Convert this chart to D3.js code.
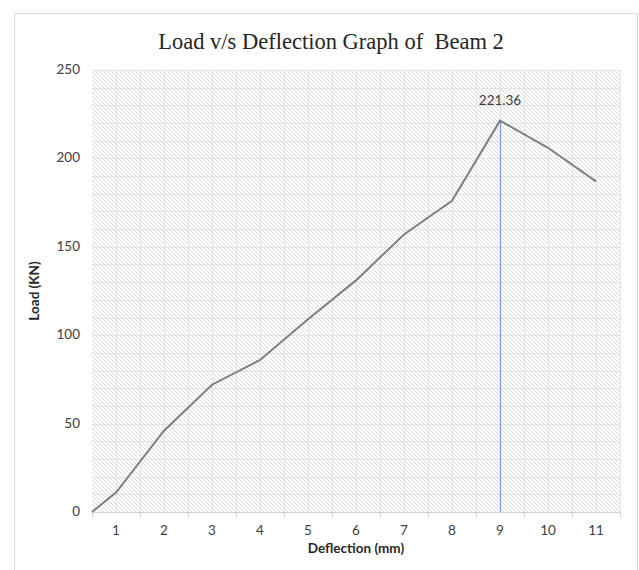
<!DOCTYPE html>
<html>
<head>
<meta charset="utf-8">
<script src="https://cdnjs.cloudflare.com/ajax/libs/d3/7.8.5/d3.min.js"></script>
<style>
body { margin:0; background:#fff; }
text { font-family: Lato, "Open Sans", sans-serif; }
</style>
</head>
<body>
<div id="chart"></div>
<script>
// deflection (mm) and load (KN)
var deflection = [0.5, 1, 2, 3, 4, 5, 6, 7, 8, 9, 10, 11];
var load = [0, 11, 46, 72, 86, 109, 131, 157, 176, 221.36, 206, 187];
var xLabels = [1, 2, 3, 4, 5, 6, 7, 8, 9, 10, 11];
var yTicks = [0, 50, 100, 150, 200, 250];
var peakLabel = "221.36";

var width = 639, height = 570;
var m = {left: 92, right: 19, top: 70, bottom: 58};

var svg = d3.select('#chart').append('svg')
    .attr('width', width)
    .attr('height', height);

// hatch fill of the plot area
var defs = svg.append('defs');
defs.append('pattern')
    .attr('id', 'hatch')
    .attr('patternUnits', 'userSpaceOnUse')
    .attr('width', 4).attr('height', 4)
    .append('path')
    .attr('d', 'M-1,-1 L5,5 M-1,3 L1,5 M3,-1 L5,1')
    .attr('stroke', '#dcdcdc')
    .attr('stroke-width', 1);

// chart border
svg.append('rect')
    .attr('x', 14.5).attr('y', 13.5)
    .attr('width', 623).attr('height', 600)
    .attr('fill', 'none')
    .attr('stroke', '#d9d9d9');

var x = d3.scaleLinear().domain([0.5, 11.5]).range([m.left, width - m.right]);
var y = d3.scaleLinear().domain([0, 250]).range([height - m.bottom, m.top]);

var g = svg.append('g');

g.append('rect')
    .attr('x', x(0.5)).attr('y', y(250))
    .attr('width', x(11.5) - x(0.5)).attr('height', y(0) - y(250))
    .attr('fill', 'url(#hatch)');

// gridlines
g.selectAll('.hg').data(d3.range(10, 251, 10)).enter().append('line')
    .attr('x1', x(0.5)).attr('x2', x(11.5))
    .attr('y1', function(d){ return Math.round(y(d)) + 0.5; })
    .attr('y2', function(d){ return Math.round(y(d)) + 0.5; })
    .attr('stroke', '#e3e3e3');
g.selectAll('.vg').data(d3.range(1, 11.6, 0.5)).enter().append('line')
    .attr('y1', y(0)).attr('y2', y(250))
    .attr('x1', function(d){ return Math.round(x(d)) + 0.5; })
    .attr('x2', function(d){ return Math.round(x(d)) + 0.5; })
    .attr('stroke', '#e3e3e3');

// x axis line and ticks
g.append('line')
    .attr('x1', x(0.5)).attr('x2', x(11.5))
    .attr('y1', y(0) + 0.5).attr('y2', y(0) + 0.5)
    .attr('stroke', '#d0d0d0');
g.selectAll('.xt').data(d3.range(0.5, 11.6, 1)).enter().append('line')
    .attr('y1', y(0)).attr('y2', y(0) + 5)
    .attr('x1', function(d){ return Math.round(x(d)) + 0.5; })
    .attr('x2', function(d){ return Math.round(x(d)) + 0.5; })
    .attr('stroke', '#d0d0d0');

g.selectAll('.xl').data(xLabels).enter().append('text')
    .attr('x', function(d){ return x(d); })
    .attr('y', y(0) + 23)
    .attr('text-anchor', 'middle')
    .attr('font-size', 13.5)
    .attr('fill', '#404040')
    .text(function(d){ return d; });

g.selectAll('.yl').data(yTicks).enter().append('text')
    .attr('x', 80)
    .attr('y', function(d){ return y(d) + 4; })
    .attr('text-anchor', 'end')
    .attr('font-size', 13.5)
    .attr('fill', '#404040')
    .text(function(d){ return d; });

// peak drop line
var peakI = load.indexOf(d3.max(load));
g.append('line')
    .attr('x1', x(deflection[peakI]) + 0.5).attr('x2', x(deflection[peakI]) + 0.5)
    .attr('y1', y(load[peakI])).attr('y2', y(0))
    .attr('stroke', '#7b9fdd')
    .attr('stroke-width', 1.3);

var line = d3.line()
    .x(function(d, i){ return x(deflection[i]); })
    .y(function(d){ return y(d); });

g.append('path')
    .datum(load)
    .attr('d', line)
    .attr('fill', 'none')
    .attr('stroke', '#7f7f7f')
    .attr('stroke-width', 2);

g.append('text')
    .attr('x', x(deflection[peakI]))
    .attr('y', y(load[peakI]) - 16)
    .attr('text-anchor', 'middle')
    .attr('font-size', 13.5)
    .attr('fill', '#404040')
    .text(peakLabel);

// titles
svg.append('text')
    .attr('x', 331).attr('y', 49)
    .attr('text-anchor', 'middle')
    .style('font-family', '"Liberation Serif", "Times New Roman", serif')
    .attr('font-size', 22.5)
    .attr('fill', '#262626')
    .attr('xml:space', 'preserve')
    .text('Load v/s Deflection Graph of  Beam 2');

svg.append('text')
    .attr('x', x(6)).attr('y', 553)
    .attr('text-anchor', 'middle')
    .attr('font-size', 13.5)
    .attr('font-weight', 'bold')
    .attr('fill', '#262626')
    .text('Deflection (mm)');

svg.append('text')
    .attr('transform', 'translate(39,' + y(125) + ') rotate(-90)')
    .attr('text-anchor', 'middle')
    .attr('font-size', 13.5)
    .attr('font-weight', 'bold')
    .attr('fill', '#262626')
    .text('Load (KN)');
</script>
</body>
</html>
